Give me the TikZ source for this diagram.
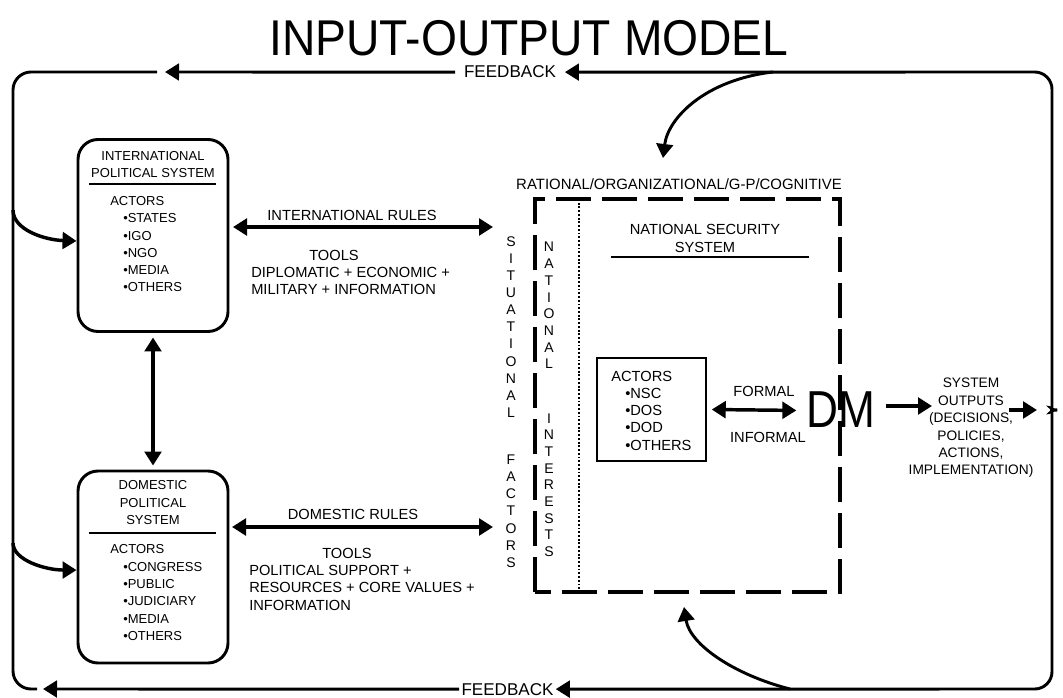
\documentclass[tikz,border=0pt]{standalone}
\usepackage{graphicx}
\usepackage{fontspec}
\setmainfont{Liberation Sans}
\usetikzlibrary{arrows.meta}
\tikzset{
  fb/.style={line width=2.2pt},
  arr/.style={line width=2.6pt,-{Triangle[length=10.5pt,width=12.5pt]}},
  darr/.style={line width=2.6pt,{Triangle[length=10.5pt,width=12.5pt]}-{Triangle[length=10.5pt,width=12.5pt]}},
  fbarr/.style={line width=2.2pt,-{Triangle[length=10.5pt,width=12.5pt]}},
  sysbox/.style={draw,line width=2.2pt,rounded corners=15pt,minimum width=112.5pt,minimum height=144pt,inner sep=0pt},
  bt/.style={font=\fontsize{9.75}{12}\selectfont,inner sep=0pt,anchor=base},
  mt/.style={font=\fontsize{11}{13}\selectfont,inner sep=0pt,anchor=base},
  ot/.style={font=\fontsize{10.3}{12}\selectfont,inner sep=0pt,anchor=base},
  lt/.style={font=\fontsize{10.5}{12}\selectfont,inner sep=0pt,anchor=base},
  fbt/.style={font=\fontsize{12.8}{14}\selectfont,inner ysep=0pt,anchor=base},
  sepline/.style={line width=0.8pt},
  dashbox/.style={line width=3pt,dash pattern=on 26.25pt off 8.25pt},
  dotline/.style={line width=1.4pt,dash pattern=on 1.4pt off 1.4pt},
}
\begin{document}
\begin{tikzpicture}[x=0.75pt,y=-0.75pt]
\useasboundingbox (0,0) rectangle (1063,698);

% title
\node[anchor=base,inner sep=0pt,font=\fontsize{37.7}{38}\selectfont] (title) at (529,55.5) {\scalebox{0.92}[1]{INPUT-OUTPUT MODEL}};

% feedback loop
\node[fbt,inner xsep=6.5pt] (fbtop) at (510,78) {FEEDBACK};
\node[fbt,inner xsep=1.5pt] (fbbot) at (507.5,695) {FEEDBACK};
\coordinate (fbTL) at (157,72);
\coordinate (fbTLtip) at (165,72);
\coordinate (fbBL) at (37,689);
\coordinate (fbBLtip) at (43,689);
\coordinate (brA) at (13,210);
\coordinate (brB) at (13,543);
\draw[fb,rounded corners=13.5pt] (fbTL) -- (13,72) -- (13,689) -- (fbBL);
\draw[fbarr] (fbtop.west) -- (fbTLtip);
\draw[fbarr] (fbbot.west) -- (fbBLtip);
\draw[fb,rounded corners=13pt,{Triangle[length=10.5pt,width=12.5pt]}-{Triangle[length=10.5pt,width=12.5pt]}]
  (fbtop.east) -- (1052,72) -- (1052,394)
  .. controls (1052,404) and (1047,410) .. (1040,410)
  .. controls (1047,410) and (1052,416) .. (1052,426)
  -- (1052,689) -- (fbbot.east);

% political system boxes
\node[sysbox] (ips) at (153,235.5) {};
\node[sysbox] (dps) at (153,567) {};
\draw[sepline] (89,184) -- (216,184);
\draw[sepline] (89,533) -- (216,533);
\node[bt] (ipsa) at (153,160.65) {INTERNATIONAL};
\node[bt] (ipsb) at (153,177.65) {POLITICAL SYSTEM};
\node[bt,anchor=base west] (ipsc) at (110,205.65) {ACTORS};
\foreach \t [count=\i] in {STATES,IGO,NGO,MEDIA,OTHERS}
  \node[bt,anchor=base west] (ipsl\i) at (123,205.65+17.25*\i) {•\t};
\node[bt] (dpsa) at (153,489.65) {DOMESTIC};
\node[bt] (dpsb) at (153,507.65) {POLITICAL};
\node[bt] (dpsc) at (153,524.65) {SYSTEM};
\node[bt,anchor=base west] (dpsd) at (110,553.65) {ACTORS};
\foreach \t [count=\i] in {CONGRESS,PUBLIC,JUDICIARY,MEDIA,OTHERS}
  \node[bt,anchor=base west] (dpsl\i) at (123,553.65+17.4*\i) {•\t};

\draw[arr] (brA) .. controls (13,230) and (45,240) .. ([yshift=-4.1pt]ips.west);
\draw[arr] (brB) .. controls (13,560) and (45,570) .. ([yshift=-2.3pt]dps.west);
\draw[darr,shorten <=3.4pt,shorten >=3pt] (ips.south) -- (dps.north);

% rules and tools
\coordinate (irL) at (233,227);
\coordinate (irR) at (493,227);
\coordinate (drL) at (232,527);
\coordinate (drR) at (493,527);
\draw[darr] (irL) -- (irR);
\draw[darr] (drL) -- (drR);
\node[mt] (irt) at (352,220.25) {INTERNATIONAL RULES};
\node[mt] (itools) at (334,260.25) {TOOLS};
\node[mt,anchor=base west] (it1) at (251,277.25) {DIPLOMATIC + ECONOMIC +};
\node[mt,anchor=base west] (it2) at (251,294.25) {MILITARY + INFORMATION};
\node[mt] (drt) at (353,519.25) {DOMESTIC RULES};
\node[mt] (dtools) at (347,558.25) {TOOLS};
\node[mt,anchor=base west] (dt1) at (249,575.25) {POLITICAL SUPPORT +};
\node[mt,anchor=base west] (dt2) at (249,592.25) {RESOURCES + CORE VALUES +};
\node[mt,anchor=base west] (dt3) at (249,610.25) {INFORMATION};

% vertical letters
\foreach \l [count=\i from 0] in {S,I,T,U,A,T,I,O,N,A,L}
  \node[lt] (sit\i) at (511,247+17*\i) {\l};
\foreach \l [count=\i from 0] in {F,A,C,T,O,R,S}
  \node[lt] (fac\i) at (511,464+17.3*\i) {\l};
\foreach \l [count=\i from 0] in {N,A,T,I,O,N,A,L}
  \node[lt] (nat\i) at (549,252+16.7*\i) {\l};
\foreach \l [count=\i from 0] in {I,N,T,E,R,E,S,T,S}
  \node[lt] (int\i) at (549,423+16.7*\i) {\l};

% national security system
\node[mt,font=\fontsize{11.2}{13}\selectfont] (rat) at (679,189.35) {RATIONAL/ORGANIZATIONAL/G-P/COGNITIVE};
\draw[dashbox] (535,592) -- (535,199) -- (840,199) -- (840,592) -- cycle;
\draw[dotline] (579,199) -- (579,592);
\node[mt] (nss1) at (705,234.25) {NATIONAL SECURITY};
\node[mt] (nss2) at (705,252.25) {SYSTEM};
\draw[line width=2.2pt] (611,257) -- (809,257);
\node[draw,line width=1.1pt,minimum width=81.75pt,minimum height=77.25pt,inner sep=0pt] (nsa) at (651.5,409.5) {};
\node[mt,anchor=base west] (nsat) at (611,381.25) {ACTORS};
\foreach \t [count=\i] in {NSC,DOS,DOD,OTHERS}
  \node[mt,anchor=base west] (nsal\i) at (625,381.25+17.2*\i) {•\t};
\node[mt] (formal) at (764,396.25) {FORMAL};
\node[mt] (informal) at (768,442.25) {INFORMAL};

% DM
\node[anchor=base,inner ysep=0pt,inner xsep=7.5pt,font=\fontsize{39}{39}\selectfont] (dm) at (841,427) {\scalebox{0.85}[1]{DM}};
\draw[darr] ([xshift=3.75pt]nsa.east) -- ([yshift=-1pt]dm.west);
\coordinate (outL) at (932,406);
\draw[arr] (dm.east |- outL) -- (outL);

% outputs
\node[ot] (o1) at (971,387.9) {SYSTEM};
\node[ot] (o2) at (971,405.9) {OUTPUTS};
\node[ot] (o3) at (971,422.9) {(DECISIONS,};
\node[ot] (o4) at (971,440.9) {POLICIES,};
\node[ot] (o5) at (971,457.9) {ACTIONS,};
\node[ot] (o6) at (971,474.9) {IMPLEMENTATION)};
\coordinate (outA) at (1009,410);
\coordinate (outB) at (1037,410);
\draw[arr] (outA) -- (outB);

% feedback curves
\coordinate (fbc1) at (773,72);
\coordinate (fbc1t) at (663,158);
\coordinate (fbc2) at (790,689);
\coordinate (fbc2t) at (684,607);
\draw[fbarr] (fbc1) .. controls (705,80) and (668,118) .. (fbc1t);
\draw[fbarr] (fbc2) .. controls (735,675) and (690,645) .. (fbc2t);
\end{tikzpicture}
\end{document}
